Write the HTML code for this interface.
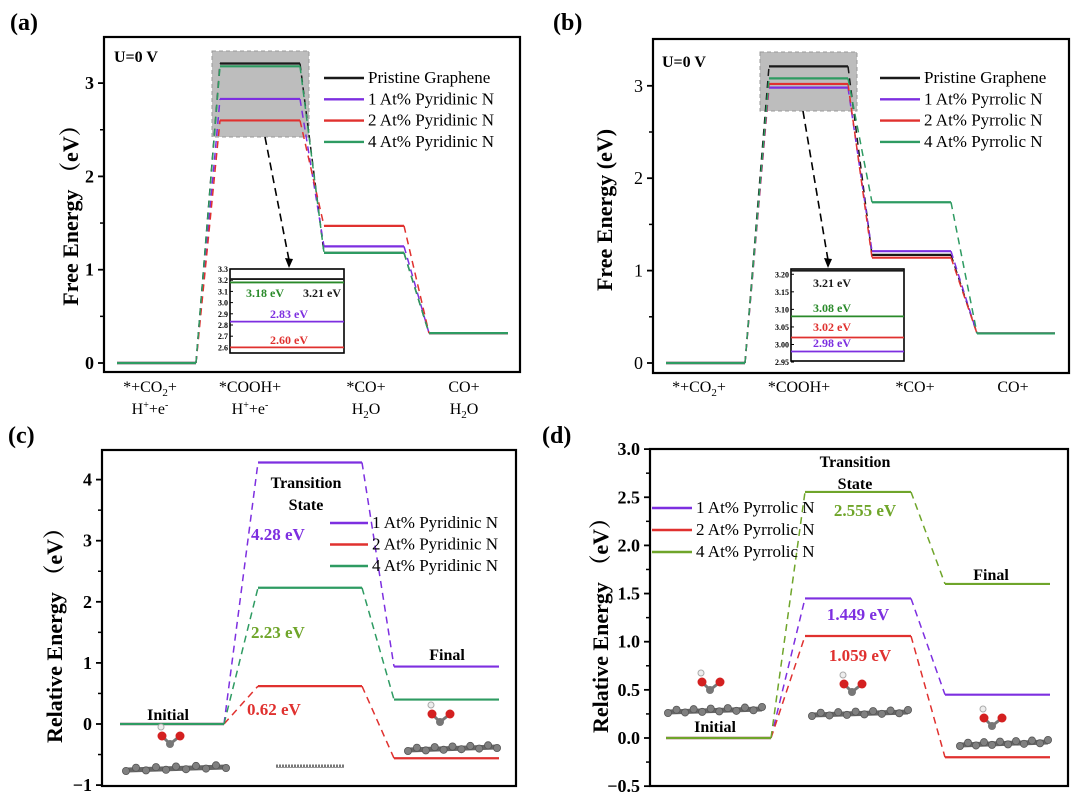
<!DOCTYPE html>
<html><head><meta charset="utf-8"><style>
html,body{margin:0;padding:0;background:#fff;}
svg{display:block;font-family:"Liberation Serif","Noto Serif CJK SC",serif;}
</style></head><body>
<svg id="fig" width="1080" height="804" viewBox="0 0 1080 804" xmlns="http://www.w3.org/2000/svg"></svg>
<script>
// ---------- data ----------
const aSeries = ["Pristine Graphene","1 At%  Pyridinic N","2 At%  Pyridinic N","4 At%  Pyridinic N"];
const aPristine = [0, 3.21, 1.18, 0.32];
const aN1 = [0, 2.83, 1.25, 0.32];
const aN2 = [0, 2.60, 1.47, 0.32];
const aN4 = [0, 3.18, 1.18, 0.32];
const aTicks = [0, 1, 2, 3];
const aInsetTicks = ["3.3","3.2","3.1","3.0","2.9","2.8","2.7","2.6"];

const bSeries = ["Pristine Graphene","1 At%  Pyrrolic N","2 At%  Pyrrolic N","4 At%  Pyrrolic N"];
const bPristine = [0, 3.21, 1.17, 0.32];
const bN1 = [0, 2.98, 1.21, 0.32];
const bN2 = [0, 3.02, 1.14, 0.32];
const bN4 = [0, 3.08, 1.74, 0.32];
const bTicks = [0, 1, 2, 3];
const bInsetTicks = ["3.20","3.15","3.10","3.05","3.00","2.95"];

const cSeries = ["1 At%  Pyridinic N","2 At%  Pyridinic N","4 At%  Pyridinic N"];
const cN1 = [0, 4.28, 0.94];
const cN2 = [0, 0.62, -0.56];
const cN4 = [0, 2.23, 0.40];
const cTicks = [-1, 0, 1, 2, 3, 4];

const dSeries = ["1 At%  Pyrrolic N","2 At%  Pyrrolic N","4 At%  Pyrrolic N"];
const dN1 = [0, 1.449, 0.45];
const dN2 = [0, 1.059, -0.20];
const dN4 = [0, 2.555, 1.60];
const dTicks = ["-0.5","0.0","0.5","1.0","1.5","2.0","2.5","3.0"];

// ---------- helpers ----------
const NS = "http://www.w3.org/2000/svg";
const svg = document.getElementById("fig");
function mk(tag, attrs, parent){ const e=document.createElementNS(NS,tag); for(const k in attrs) e.setAttribute(k,attrs[k]); (parent||svg).appendChild(e); return e; }
function txt(x,y,s,attrs,parent){ const e=mk("text",Object.assign({x:x,y:y},attrs||{}),parent); e.textContent=s; return e; }

const BLK="#1a1a1a", PUR="#7d2fe0", RED="#e0312f", GRN="#2e9b62", OLV="#6fa52a";

function panel(o){
  const g = mk("g",{});
  
  
  const y = v => o.y0 - v*o.unit;
  if(o.zoom){ const z=mk("rect",{x:o.zoom[0],y:o.zoom[1],width:o.zoom[2],height:o.zoom[3],fill:"#bdbdbd",stroke:"#999","stroke-dasharray":"4 3"},g);
    
     }
  o.series.forEach((s,si)=>{
    const sg = mk("g",{},g);
    
    
    s.vals.forEach((v,i)=>{
      const l=mk("line",{x1:o.lx[i][0],x2:o.lx[i][1],y1:y(v),y2:y(v),stroke:s.color,"stroke-width":2.2},sg);
      
      
      if(i<s.vals.length-1){
        const c=mk("line",{x1:o.lx[i][1],x2:o.lx[i+1][0],y1:y(v),y2:y(s.vals[i+1]),stroke:s.color,"stroke-width":1.5,"stroke-dasharray":"7 5"},sg);
        
        
      }
    });
  });
  const b=mk("rect",{x:o.box[0],y:o.box[1],width:o.box[2]-o.box[0],height:o.box[3]-o.box[1],fill:"none",stroke:"#000","stroke-width":2.2},g);
  
  
  o.ticks.forEach(t=>{
    const v=parseFloat(t);
    mk("line",{x1:o.box[0]-6,x2:o.box[0],y1:y(v),y2:y(v),stroke:"#000","stroke-width":1.8},g);
    const tl=txt(o.box[0]-10,y(v)+6,String(t).replace("-","−"),{"text-anchor":"end","font-size":o.tickFs||18,"font-weight":o.tickBold===false?"normal":"bold"},g);
    
    
  });
  (o.minor||[]).forEach(v=>{ mk("line",{x1:o.box[0]-4,x2:o.box[0],y1:y(v),y2:y(v),stroke:"#000","stroke-width":1.5},g); });
  const yl=txt(0,0,o.ylabel,{transform:`translate(${o.ylx},${o.yly}) rotate(-90)`,"text-anchor":"middle","font-size":22,"font-weight":"bold"},g);
  
  
  o.series.forEach((s,si)=>{
    const ly=o.leg[1]+si*o.leg[3];
    mk("line",{x1:o.leg[0],x2:o.leg[0]+o.leg[2],y1:ly,y2:ly,stroke:s.color,"stroke-width":2.4},g);
    const lt=txt(o.leg[0]+o.leg[2]+4,ly+5,s.label,{"font-size":17},g);
    
    
  });
  return {g,y};
}

function inset(o,g){
  const ig=mk("g",{},g);
  
  
  const y=v=>o.top + (o.vmax-v)/(o.vmax-o.vmin)*(o.bot-o.top);
  mk("rect",{x:o.x0,y:o.top,width:o.x1-o.x0,height:o.bot-o.top,fill:"#fff",stroke:"#000","stroke-width":1.6},ig);
  o.ticks.forEach(t=>{ const v=parseFloat(t); mk("line",{x1:o.x0,x2:o.x0+3,y1:y(v),y2:y(v),stroke:"#000"},ig);
    txt(o.x0-2,y(v)+3,t,{"text-anchor":"end","font-size":8,"font-weight":"bold"},ig); });
  o.lines.forEach(l=>{
    const ln=mk("line",{x1:o.x0,x2:o.x1,y1:y(l.v),y2:y(l.v),stroke:l.c,"stroke-width":1.8},ig);
    
    
    const t=txt(l.tx,l.ty,l.v.toFixed(2)+" eV",{"font-size":12,"font-weight":"bold",fill:l.c,"text-anchor":l.anchor||"middle"},ig);
    
    
  });
  mk("line",{x1:o.arrow[0],y1:o.arrow[1],x2:o.arrow[2],y2:o.arrow[3]-8,stroke:"#000","stroke-width":1.6,"stroke-dasharray":"8 5"},ig);
  const ax=o.arrow[2], ay=o.arrow[3];
  mk("polygon",{points:`${ax},${ay} ${ax-4},${ay-10} ${ax+4},${ay-9}`,fill:"#000"},ig);
}

function sheet(x0,x1,yy,g,n){
  const sg=mk("g",{},g);
  
  
  mk("line",{x1:x0,x2:x1,y1:yy,y2:yy-3,stroke:"#666","stroke-width":5},sg);
  const step=(x1-x0)/n;
  for(let i=0;i<=n;i++) mk("circle",{cx:x0+i*step,cy:yy-3*i/n+(i%2?-2:1),r:3.6,fill:"#808080",stroke:"#555","stroke-width":0.8},sg);
  return sg;
}
function thinSheet(x0,x1,yy,g){
  const sg=mk("g",{},g);
  
  
  mk("line",{x1:x0,x2:x1,y1:yy,y2:yy,stroke:"#777","stroke-width":3,"stroke-dasharray":"2 1"},sg);
  mk("line",{x1:x0,x2:x1,y1:yy+1.5,y2:yy+1.5,stroke:"#999","stroke-width":1},sg);
}
function mol(x,y,g){
  mk("line",{x1:x,y1:y,x2:x+10,y2:y-8,stroke:"#777","stroke-width":3},g);
  mk("line",{x1:x,y1:y,x2:x-8,y2:y-8,stroke:"#777","stroke-width":3},g);
  mk("circle",{cx:x,cy:y,r:4,fill:"#777"},g);
  mk("circle",{cx:x+10,cy:y-8,r:4.5,fill:"#d42020"},g);
  mk("circle",{cx:x-8,cy:y-8,r:4.5,fill:"#d42020"},g);
  mk("circle",{cx:x-9,cy:y-17,r:3,fill:"#eee",stroke:"#aaa"},g);
}

// ---------- panel a ----------
const A = panel({name:"panel-a",y0:363,unit:93.3,box:[104,37,520,372],
  lx:[[117,196],[220,300],[324,404],[429,508]],
  zoom:[212,51,97,86],
  series:[{vals:aPristine,color:BLK,label:aSeries[0]},{vals:aN1,color:PUR,label:aSeries[1]},{vals:aN2,color:RED,label:aSeries[2]},{vals:aN4,color:GRN,label:aSeries[3]}],
  ticks:aTicks, minor:[0.5,1.5,2.5], ylabel:"Free Energy （eV）", ylx:78, yly:210, leg:[324,78,40,21.3]});
inset({x0:230,x1:344,top:269,bot:353,vmax:3.3,vmin:2.55,ticks:aInsetTicks,arrow:[265,137,289,268],
  lines:[{v:aPristine[1],c:BLK,tx:303,ty:297,anchor:"start"},{v:aN4[1],c:"#2a8a2a",tx:246,ty:297,anchor:"start"},{v:aN1[1],c:PUR,tx:289,ty:318},{v:aN2[1],c:RED,tx:289,ty:344}]},A.g);

// ---------- panel b ----------
const B = panel({name:"panel-b",y0:363,unit:92.4,box:[653,39,1069,373],
  lx:[[666,745],[769,848],[872,951],[977,1055]],
  zoom:[760,52,97,59],
  series:[{vals:bPristine,color:BLK,label:bSeries[0]},{vals:bN1,color:PUR,label:bSeries[1]},{vals:bN2,color:RED,label:bSeries[2]},{vals:bN4,color:GRN,label:bSeries[3]}],
  ticks:bTicks, minor:[0.5,1.5,2.5], tickBold:false, ylabel:"Free Energy (eV)", ylx:612, yly:210, leg:[880,78,40,21.3]});
inset({x0:791,x1:904,top:269,bot:361,vmax:3.215,vmin:2.953,ticks:bInsetTicks,arrow:[803,111,828,268],
  lines:[{v:bPristine[1],c:BLK,tx:832,ty:287},{v:bN4[1],c:"#2a8a2a",tx:832,ty:312},{v:bN2[1],c:RED,tx:832,ty:331},{v:bN1[1],c:PUR,tx:832,ty:347}]},B.g);

// x labels a & b
[["*+CO","2","+",150],["*COOH+","","",250],["*CO+","","",366],["CO+","","",464]].forEach((l,i)=>{
  [0,549].forEach(dx=>{
    const t=txt(l[3]+dx,392,"",{"text-anchor":"middle","font-size":16});
    
    
    t.innerHTML = l[0]+(l[1]?'<tspan dy="4" font-size="11">'+l[1]+'</tspan><tspan dy="-4">'+l[2]+'</tspan>':'');
  });
});
[["H<tspan dy='-6' font-size='10'>+</tspan><tspan dy='6'>+e</tspan><tspan dy='-6' font-size='10'>-</tspan>",150],["H<tspan dy='-6' font-size='10'>+</tspan><tspan dy='6'>+e</tspan><tspan dy='-6' font-size='10'>-</tspan>",250],["H<tspan dy='4' font-size='11'>2</tspan><tspan dy='-4'>O</tspan>",366],["H<tspan dy='4' font-size='11'>2</tspan><tspan dy='-4'>O</tspan>",464]].forEach(l=>{
  const t=txt(l[1],414,"",{"text-anchor":"middle","font-size":16});
  
  
  t.innerHTML=l[0];
});
const ua=txt(114,62,"U=0 V",{"font-size":16,"font-weight":"bold"});  
const ub=txt(662,67,"U=0 V",{"font-size":16,"font-weight":"bold"});  

// ---------- panel c ----------
const C = panel({name:"panel-c",y0:724,unit:61.1,box:[102,450,516,786],
  lx:[[120,224],[258,362],[394,499]],
  series:[{vals:cN1,color:PUR,label:cSeries[0]},{vals:cN2,color:RED,label:cSeries[1]},{vals:cN4,color:GRN,label:cSeries[2]}],
  ticks:cTicks, minor:[-0.5,0.5,1.5,2.5,3.5], ylabel:"Relative Energy （eV）", ylx:62, yly:630, leg:[330,523,38,21.5]});
[["Transition",306,488],["State",306,510],["Initial",168,720],["Final",447,660]].forEach(l=>{
  const t=txt(l[1],l[2],l[0],{"text-anchor":"middle","font-size":16,"font-weight":"bold"});
    });
[[cN1[1],PUR,251,540],[cN4[1],OLV,251,638],[cN2[1],RED,247,715]].forEach(l=>{
  const t=txt(l[2],l[3],l[0].toFixed(2)+" eV",{"font-size":17,"font-weight":"bold",fill:l[1]});
    });
sheet(126,226,770,C.g,10); mol(170,744,C.g);
thinSheet(276,344,766,C.g);
sheet(408,497,750,C.g,10); mol(440,722,C.g);

// ---------- panel d ----------
const D = panel({name:"panel-d",y0:738,unit:96.3,box:[650,449,1068,786],
  lx:[[666,771],[805,911],[945,1050]],
  series:[{vals:dN1,color:PUR,label:dSeries[0]},{vals:dN2,color:RED,label:dSeries[1]},{vals:dN4,color:OLV,label:dSeries[2]}],
  ticks:dTicks, minor:[-0.25,0.25,0.75,1.25,1.75,2.25,2.75], ylabel:"Relative Energy （eV）", ylx:608, yly:620, leg:[652,508,40,22]});
[["Transition",855,467],["State",855,489],["Initial",715,732],["Final",991,580]].forEach(l=>{
  const t=txt(l[1],l[2],l[0],{"text-anchor":"middle","font-size":16,"font-weight":"bold"});
    });
[[dN4[1],OLV,865,516],[dN1[1],PUR,858,620],[dN2[1],RED,860,661]].forEach(l=>{
  const t=txt(l[2],l[3],l[0].toFixed(3)+" eV",{"font-size":17,"font-weight":"bold",fill:l[1],"text-anchor":"middle"});
    });
sheet(668,762,712,D.g,11); mol(710,690,D.g);
sheet(812,908,715,D.g,11); mol(852,692,D.g);
sheet(960,1048,745,D.g,11); mol(992,726,D.g);

// panel letters
[["(a)",10,30],["(b)",553,30],["(c)",8,443],["(d)",542,443]].forEach(l=>{
  const t=txt(l[1],l[2],l[0],{"font-size":24,"font-weight":"bold"});
    });
</script>
</body></html>
